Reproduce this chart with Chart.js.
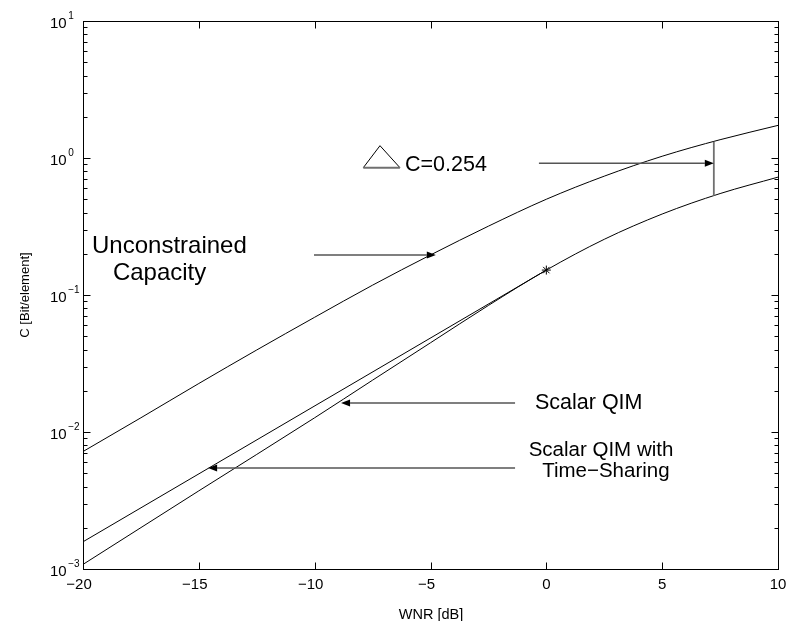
<!DOCTYPE html>
<html>
<head>
<meta charset="utf-8">
<script src="https://cdn.jsdelivr.net/npm/chart.js@4.4.0/dist/chart.umd.min.js"></script>
<style>
  html, body { margin: 0; padding: 0; background: #fff; }
  .chart-container { width: 786px; height: 621px; }
</style>
</head>
<body>
<div class="chart-container"><canvas class="chart"></canvas></div>
<script>
// WNR [dB] against C [bit/element]
const wnrUnconstrained = [-20, -17.5, -15, -12.5, -10, -7.5, -5, -2.5, 0, 2.5, 5, 7.5, 10];
const capUnconstrained = [0.0072, 0.0127, 0.0226, 0.0397, 0.0688, 0.118, 0.196, 0.318, 0.5, 0.737, 1.03, 1.36, 1.73];

const wnrScalarQim = [-20, -15, -10, -7.5, -5, -2.5, 0, 2.5, 5, 7.5, 10];
const capScalarQim = [0.00108, 0.00372, 0.0127, 0.0239, 0.0448, 0.0839, 0.152, 0.255, 0.39, 0.55, 0.725];

const wnrTimeSharing = [-20, 0];
const capTimeSharing = [0.00158, 0.152];

// the marked tangent point
const starWnr = [0];
const starCap = [0.152];

// axes
const xTicks = [-20, -15, -10, -5, 0, 5, 10];
const xTickLabels = ['\u221220', '\u221215', '\u221210', '\u22125', '0', '5', '10'];
const yDecades = [-3, -2, -1, 0, 1];

// annotations, in data units (dB, C)
const arrows = [
  { from: [-10.03, 0.196], to: [-4.77, 0.196] },     // unconstrained capacity
  { from: [-0.32, 0.915], to: [7.23, 0.915] },       // delta C
  { from: [-1.35, 0.0163], to: [-8.86, 0.0163] },    // scalar QIM
  { from: [-1.35, 0.00546], to: [-14.6, 0.00546] }   // time-sharing
];
const gapLine = { x: 7.23, lo: 0.53, hi: 1.315 };
const labels = [
  { text: 'Unconstrained', x: -19.61, y: 0.2027, size: 24, align: 'left' },
  { text: 'Capacity', x: -18.71, y: 0.1287, size: 24, align: 'left' },
  { text: 'C=0.254', x: -6.10, y: 0.81, size: 21.5, align: 'left' },
  { text: 'Scalar QIM', x: -0.49, y: 0.01472, size: 21.5, align: 'left' },
  { text: 'Scalar QIM with', x: 2.36, y: 0.00668, size: 20.5, align: 'center' },
  { text: 'Time\u2212Sharing', x: 2.57, y: 0.0047, size: 20.5, align: 'center' }
];
const deltaTriangle = { left: -7.90, right: -6.32, base: 0.85, apexX: -7.18, apexY: 1.23 };

const FONT = '"Liberation Sans", Arial, Helvetica, sans-serif';

function toPoints(xs, ys) {
  return xs.map((x, i) => ({ x: x, y: ys[i] }));
}

// draws the frame, inward ticks, tick labels, axis titles and the annotations
const paperPlugin = {
  id: 'paper',
  afterDatasetsDraw(chart) {
    const ctx = chart.ctx;
    const xs = chart.scales.x;
    const ys = chart.scales.y;
    const a = chart.chartArea;
    const px = v => xs.getPixelForValue(v);
    const py = v => ys.getPixelForValue(v);
    const snap = v => Math.round(v) + 0.5;

    ctx.save();
    ctx.strokeStyle = '#000';
    ctx.fillStyle = '#000';
    ctx.lineWidth = 1;

    // frame
    const L = snap(a.left), R = snap(a.right), T = snap(a.top), B = snap(a.bottom);
    ctx.strokeRect(L, T, R - L, B - T);

    // x ticks (bottom and top)
    ctx.beginPath();
    xTicks.forEach(v => {
      const x = snap(px(v));
      ctx.moveTo(x, B); ctx.lineTo(x, B - 7);
      ctx.moveTo(x, T); ctx.lineTo(x, T + 7);
    });
    // y ticks (left and right), majors and minors
    yDecades.forEach(d => {
      const y = snap(py(Math.pow(10, d)));
      ctx.moveTo(L, y); ctx.lineTo(L + 7, y);
      ctx.moveTo(R, y); ctx.lineTo(R - 7, y);
      if (d < yDecades[yDecades.length - 1]) {
        for (let m = 2; m <= 9; m++) {
          const ym = snap(py(m * Math.pow(10, d)));
          ctx.moveTo(L, ym); ctx.lineTo(L + 4, ym);
          ctx.moveTo(R, ym); ctx.lineTo(R - 4, ym);
        }
      }
    });
    ctx.stroke();

    // x tick labels
    ctx.font = '15px ' + FONT;
    ctx.textBaseline = 'alphabetic';
    ctx.textAlign = 'center';
    xTicks.forEach((v, i) => {
      const shift = v < 0 ? -4 : 0;
      ctx.fillText(xTickLabels[i], px(v) + shift, a.bottom + 20);
    });

    // y tick labels: 10 with a raised exponent
    ctx.textAlign = 'left';
    yDecades.forEach(d => {
      const y = py(Math.pow(10, d));
      ctx.font = '15px ' + FONT;
      ctx.fillText('10', 50, y + 6.5);
      const w = ctx.measureText('10').width;
      ctx.font = '10px ' + FONT;
      const exp = d < 0 ? '\u2212' + (-d) : String(d);
      ctx.fillText(exp, 50 + w + 1.5, y - 2);
    });

    // axis titles
    ctx.font = '14.5px ' + FONT;
    ctx.textAlign = 'center';
    ctx.fillText('WNR [dB]', (a.left + a.right) / 2 + 0.5, 619);
    ctx.save();
    ctx.translate(29, (a.top + a.bottom) / 2);
    ctx.rotate(-Math.PI / 2);
    ctx.font = '13px ' + FONT;
    ctx.fillText('C [Bit/element]', 0, 0);
    ctx.restore();

    // vertical gap line
    ctx.strokeStyle = '#707070';
    ctx.lineWidth = 1.8;
    ctx.beginPath();
    ctx.moveTo(px(gapLine.x), py(gapLine.lo));
    ctx.lineTo(px(gapLine.x), py(gapLine.hi));
    ctx.stroke();

    // arrows: grey shaft, black filled head
    arrows.forEach(ar => {
      const x0 = px(ar.from[0]), y0 = py(ar.from[1]);
      const x1 = px(ar.to[0]), y1 = py(ar.to[1]);
      const ang = Math.atan2(y1 - y0, x1 - x0);
      const head = 9, half = 3.5;
      const bx = x1 - head * Math.cos(ang), by = y1 - head * Math.sin(ang);
      ctx.strokeStyle = '#555';
      ctx.lineWidth = 1.5;
      ctx.beginPath();
      ctx.moveTo(x0, y0); ctx.lineTo(bx, by);
      ctx.stroke();
      ctx.fillStyle = '#000';
      ctx.beginPath();
      ctx.moveTo(x1, y1);
      ctx.lineTo(bx + half * Math.sin(ang), by - half * Math.cos(ang));
      ctx.lineTo(bx - half * Math.sin(ang), by + half * Math.cos(ang));
      ctx.closePath();
      ctx.fill();
    });

    // the delta triangle in front of C=0.254
    const tl = px(deltaTriangle.left), tr = px(deltaTriangle.right), tb = py(deltaTriangle.base);
    const ax = px(deltaTriangle.apexX), ay = py(deltaTriangle.apexY);
    ctx.strokeStyle = '#000';
    ctx.lineWidth = 1;
    ctx.beginPath();
    ctx.moveTo(tl, tb); ctx.lineTo(ax, ay); ctx.lineTo(tr, tb);
    ctx.stroke();
    ctx.strokeStyle = '#707070';
    ctx.lineWidth = 2;
    ctx.beginPath();
    ctx.moveTo(tl, tb); ctx.lineTo(tr, tb);
    ctx.stroke();

    // annotation texts
    ctx.fillStyle = '#000';
    labels.forEach(lb => {
      ctx.font = lb.size + 'px ' + FONT;
      ctx.textAlign = lb.align;
      ctx.fillText(lb.text, px(lb.x), py(lb.y));
    });

    ctx.restore();
  }
};

const curveStyle = {
  showLine: true,
  borderColor: '#000',
  borderWidth: 1,
  pointRadius: 0,
  fill: false
};

new Chart(document.querySelector('.chart'), {
  type: 'scatter',
  data: {
    datasets: [
      Object.assign({ label: 'Unconstrained Capacity', data: toPoints(wnrUnconstrained, capUnconstrained), cubicInterpolationMode: 'monotone' }, curveStyle),
      Object.assign({ label: 'Scalar QIM', data: toPoints(wnrScalarQim, capScalarQim), cubicInterpolationMode: 'monotone' }, curveStyle),
      Object.assign({ label: 'Scalar QIM with Time-Sharing', data: toPoints(wnrTimeSharing, capTimeSharing), tension: 0 }, curveStyle),
      {
        label: 'tangent point',
        data: toPoints(starWnr, starCap),
        showLine: false,
        pointStyle: 'star',
        pointRadius: 4.5,
        borderColor: '#000',
        backgroundColor: '#000',
        borderWidth: 1
      }
    ]
  },
  options: {
    responsive: true,
    maintainAspectRatio: false,
    animation: false,
    events: [],
    layout: { padding: { left: 83, right: 8, top: 21, bottom: 52 } },
    plugins: {
      legend: { display: false },
      tooltip: { enabled: false }
    },
    scales: {
      x: { type: 'linear', min: -20, max: 10, display: false },
      y: { type: 'logarithmic', min: 0.001, max: 10, display: false }
    }
  },
  plugins: [paperPlugin]
});
</script>
</body>
</html>
